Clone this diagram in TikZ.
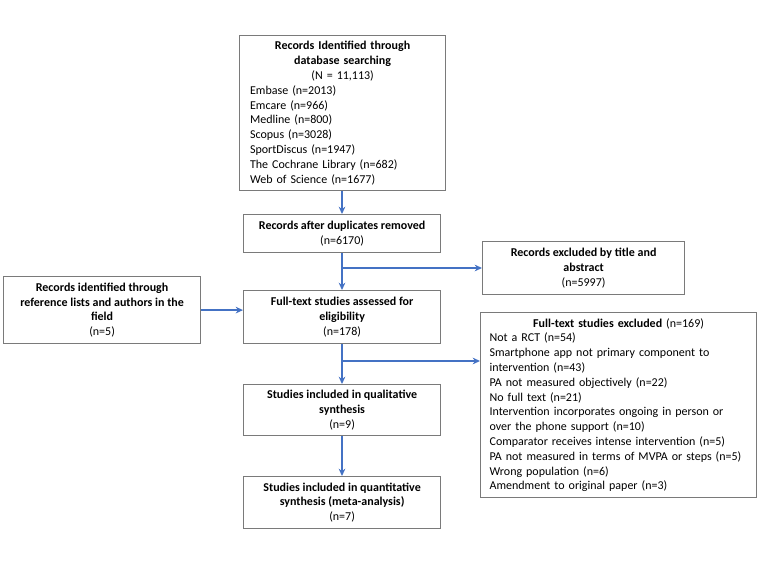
\documentclass[tikz,border=0pt]{standalone}
\usepackage{fontspec}
\setmainfont{Carlito}
\usetikzlibrary{arrows.meta}
\definecolor{boxgray}{HTML}{7A7A7A}
\definecolor{arrblue}{HTML}{4472C4}
\tikzset{
  box/.style={draw=boxgray, line width=0.9pt, fill=white, anchor=north west, inner sep=0pt,
              font=\fontsize{9}{11.1}\selectfont, align=center},
  arr/.style={draw=arrblue, line width=1.1pt, -{Stealth[length=5.5pt,width=5pt]}}
}
\newcommand{\ctr}[1]{\makebox[\linewidth][c]{#1}}
\begin{document}
\begin{tikzpicture}[x=0.75pt,y=-0.75pt]
\useasboundingbox (0,0) rectangle (759,566);

\node[box, minimum width=206*0.75pt, minimum height=155*0.75pt, text width=185*0.75pt, align=left] (db) at (239,35)
 {\ctr{\textbf{Records Identified through}}\\
  \ctr{\textbf{database searching}}\\
  \ctr{(N = 11,113)}\\
  Embase (n=2013)\\
  Emcare (n=966)\\
  Medline (n=800)\\
  Scopus (n=3028)\\
  SportDiscus (n=1947)\\
  The Cochrane Library (n=682)\\
  Web of Science (n=1677)};

\node[box, minimum width=197*0.75pt, minimum height=38*0.75pt] (dup) at (243,214)
 {\textbf{Records after duplicates removed}\\(n=6170)};

\node[box, minimum width=202*0.75pt, minimum height=53*0.75pt] (extitle) at (482,241)
 {\textbf{Records excluded by title and}\\\textbf{abstract}\\(n=5997)};

\node[box, minimum width=197*0.75pt, minimum height=67*0.75pt] (ref) at (3,276)
 {\textbf{Records identified through}\\\textbf{reference lists and authors in the}\\\textbf{field}\\(n=5)};

\node[box, minimum width=197*0.75pt, minimum height=53*0.75pt] (full) at (243,290)
 {\textbf{Full-text studies assessed for}\\\textbf{eligibility}\\(n=178)};

\node[box, minimum width=276*0.75pt, minimum height=185*0.75pt, text width=258*0.75pt, align=left] (exfull) at (480,312)
 {\ctr{\textbf{Full-text studies excluded} (n=169)}\\
  Not a RCT (n=54)\\
  Smartphone app not primary component to\\
  intervention (n=43)\\
  PA not measured objectively (n=22)\\
  No full text (n=21)\\
  Intervention incorporates ongoing in person or\\
  over the phone support (n=10)\\
  Comparator receives intense intervention (n=5)\\
  PA not measured in terms of MVPA or steps (n=5)\\
  Wrong population (n=6)\\
  Amendment to original paper (n=3)};

\node[box, minimum width=197*0.75pt, minimum height=51*0.75pt] (qual) at (243,384)
 {\textbf{Studies included in qualitative}\\\textbf{synthesis}\\(n=9)};

\node[box, minimum width=197*0.75pt, minimum height=52*0.75pt] (quant) at (243,476)
 {\textbf{Studies included in quantitative}\\\textbf{synthesis (meta-analysis)}\\(n=7)};

\coordinate (j1) at (342,268);
\coordinate (j2) at (342,361);

\draw[arr] (db.south -| j1) -- (dup.north -| j1);
\draw[arr] (dup.south -| j1) -- (full.north -| j1);
\draw[arr] (j1) -- (j1 -| extitle.west);
\draw[arr] (ref.east) -- (ref.east -| full.west);
\draw[arr] (full.south -| j2) -- (qual.north -| j2);
\draw[arr] (j2) -- (j2 -| exfull.west);
\draw[arr] (qual.south -| j2) -- (quant.north -| j2);
\end{tikzpicture}
\end{document}
